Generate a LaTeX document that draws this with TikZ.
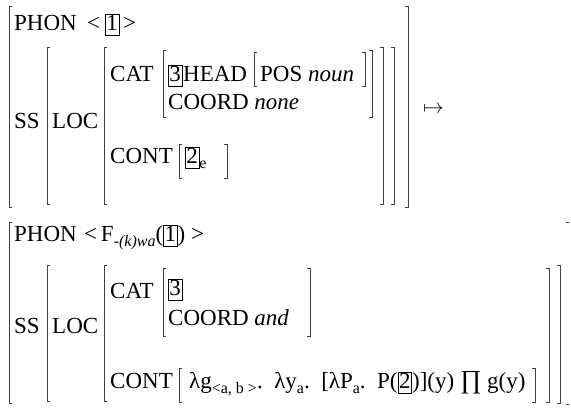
\documentclass[tikz,border=0pt]{standalone}
\usepackage{fontspec}
\setmainfont{Liberation Serif}
% brackets of the attribute-value matrices
\newcommand{\avmL}[3]{\draw[brk] (#1+3,#2) -- (#1,#2) -- (#1,#3) -- (#1+3,#3);}
\newcommand{\avmR}[3]{\draw[brk] (#1-3,#2) -- (#1,#2) -- (#1,#3) -- (#1-3,#3);}
\newcommand{\avmsub}[1]{\raisebox{-0.22em}{\fontsize{16}{18}\selectfont #1}}
\begin{document}
\begin{tikzpicture}[
    x=1pt, y=-1pt,
    txt/.style={anchor=base west, inner sep=0pt, font=\fontsize{23}{27}\selectfont},
    tag/.style={txt, draw, line width=0.6pt, inner xsep=1pt, inner ysep=1pt, text height=15pt, text depth=4pt},
    brk/.style={line width=0.7pt, black!75}
]
\useasboundingbox (0,0) rectangle (571,408);
% Top matrix
\avmL{9}{6}{207}
\avmR{408}{6}{207}
\node[txt] (phonT) at (14,30) {PHON};
\node[txt] (ltT) at (87,30) {<};
\node[tag] (t1T) at (105,30) {1};
\node[txt] (gtT) at (123,30) {>};
\node[txt] (ssT) at (14,128) {SS};
\avmL{47}{47}{204}
\avmR{394}{47}{204}
\node[txt] (locT) at (52,128) {LOC};
\avmL{104}{47}{204}
\avmR{383}{47}{204}
\node[txt] (catT) at (110,81) {CAT};
\avmL{163}{50}{117}
\avmR{372}{50}{117}
\node[tag] (t3T) at (168,81) {3};
\node[txt] (headT) at (183,81) {HEAD};
\avmL{254}{52}{86}
\avmR{365}{52}{86}
\node[txt] (posT) at (260,81) {POS \textit{noun}};
\node[txt] (coordT) at (168,109) {COORD \textit{none}};
\node[txt] (contT) at (110,163) {CONT};
\avmL{179}{144}{178}
\avmR{227}{144}{178}
\node[tag] (t2T) at (185,163) {2};
\node[txt] (eT) at (t2T.base east) {\avmsub{e}};
\node[txt, font=\fontsize{20}{24}\selectfont] (mapsto) at (423,113) {$\mapsto$};
% Bottom matrix
\avmL{9}{222}{403}
\draw[brk] (566,222) -- (569,222);
\draw[brk] (566,404) -- (569,404);
\node[txt] (phonB) at (14,241) {PHON};
\node[txt] (ltB) at (84,241) {<\,F\avmsub{\textit{-(k)wa}}(};
\node[tag] (t1B) at (ltB.base east) {1};
\node[txt] (gtB) at (t1B.base east) {) >};
\node[txt] (ssB) at (14,333) {SS};
\avmL{47}{265}{401}
\avmR{560}{265}{403}
\node[txt] (locB) at (52,333) {LOC};
\avmL{104}{265}{401}
\avmR{549}{268}{402}
\node[txt] (catB) at (110,298) {CAT};
\avmL{163}{268}{336}
\avmR{310}{268}{336}
\node[tag] (t3B) at (168,295) {3};
\node[txt] (coordB) at (168,325) {COORD \textit{and}};
\node[txt] (contB) at (110,388) {CONT};
\avmL{179}{368}{402}
\avmR{535}{368}{402}
\node[txt] (lamB) at (189,388) {λg\avmsub{<a, b >}. \,λy\avmsub{a}. \,[λP\avmsub{a}. \,P(};
\node[tag] (t2B) at (lamB.base east) {2};
\node[txt] (restB) at (t2B.base east) {)](y) {\fontsize{26}{28}\selectfont ∏} g(y)};
\end{tikzpicture}
\end{document}
